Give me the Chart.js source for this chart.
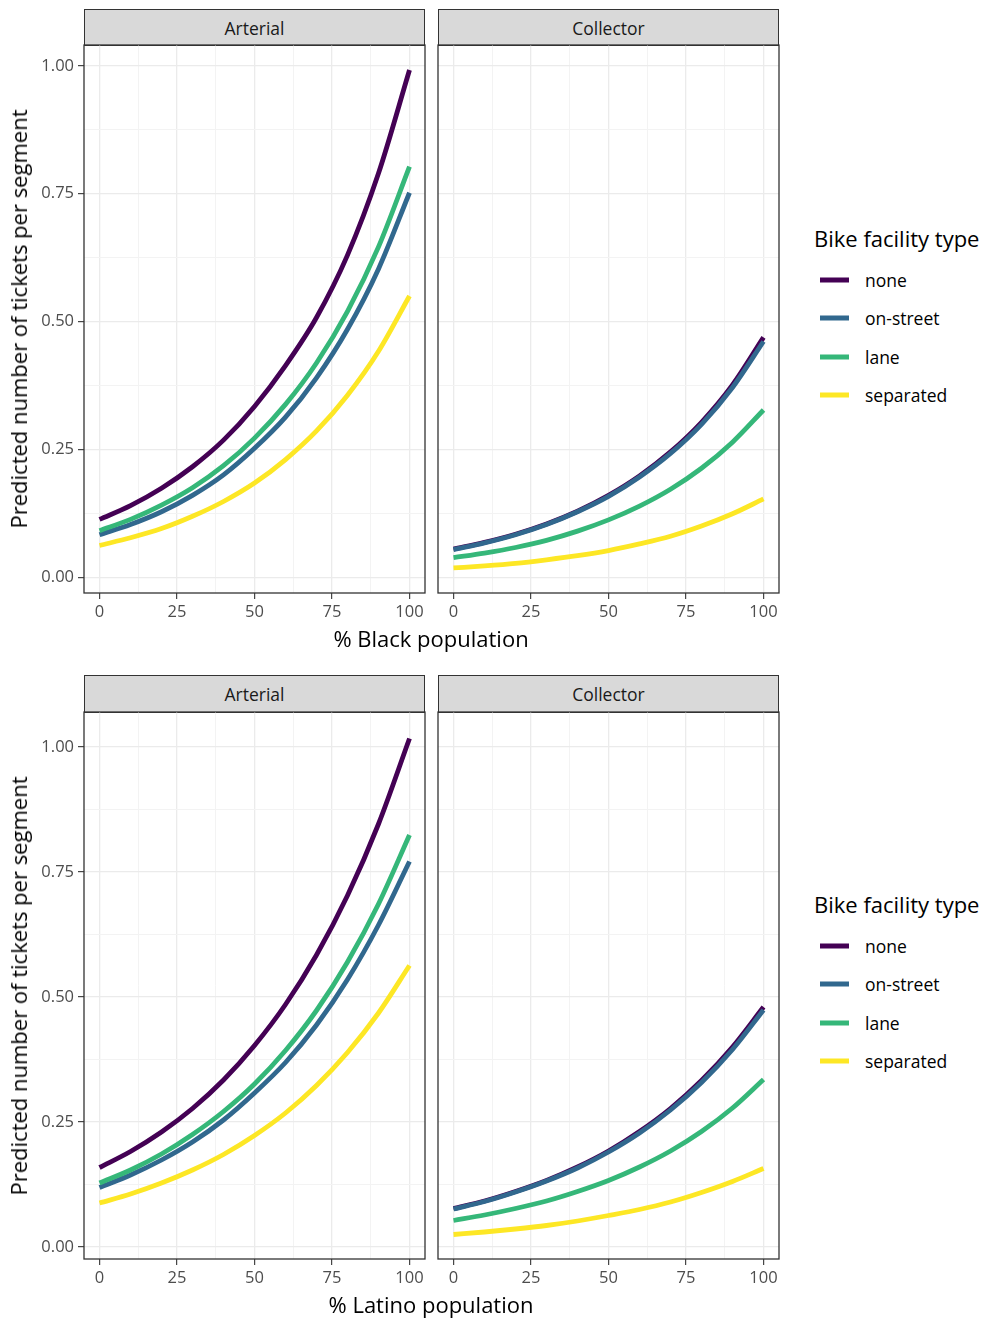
<!DOCTYPE html>
<html>
<head>
<meta charset="utf-8">
<script src="https://cdn.jsdelivr.net/npm/chart.js@4.4.1/dist/chart.umd.min.js"></script>
<style>
  html, body { margin:0; padding:0; background:#ffffff; }
  body { width:991px; height:1318px; position:relative; overflow:hidden; font-family:"Open Sans", "Noto Sans", sans-serif; }
  .strip { position:absolute; box-sizing:border-box; background:#D9D9D9; border:1.3px solid #333333;
           color:#1A1A1A; font-size:17.5px; display:flex; align-items:center; justify-content:center; }
  .ytitle { position:absolute; font-size:22px; color:#000; white-space:nowrap; transform:translate(-50%,-50%) rotate(-90deg); }
  .xtitle { position:absolute; font-size:22px; color:#000; white-space:nowrap; transform:translate(-50%,-50%); }
  .legtitle { position:absolute; font-size:22px; color:#000; white-space:nowrap; transform:translateY(-50%); }
  .legkey { position:absolute; width:29px; height:5px; transform:translateY(-50%); }
  .legtext { position:absolute; font-size:17.5px; color:#000; white-space:nowrap; transform:translateY(-50%); }
</style>
</head>
<body>
<script>
// ---------------- data ----------------
const xValues = [0, 10, 20, 30, 40, 50, 60, 70, 80, 90, 100];
const facilityTypes = ['none', 'on-street', 'lane', 'separated'];
const facetNames = ['Arterial', 'Collector'];
const xTickLabels = [0, 25, 50, 75, 100];
const yTickLabels = ['0.00', '0.25', '0.50', '0.75', '1.00'];
const legendTitle = 'Bike facility type';
const yAxisTitle = 'Predicted number of tickets per segment';
const xAxisTitles = ['% Black population', '% Latino population'];

const blackArterialNone      = [0.113, 0.140, 0.174, 0.216, 0.268, 0.334, 0.414, 0.508, 0.630, 0.790, 0.992];
const blackArterialOnStreet  = [0.083, 0.103, 0.128, 0.160, 0.200, 0.252, 0.313, 0.390, 0.485, 0.603, 0.752];
const blackArterialLane      = [0.091, 0.113, 0.141, 0.175, 0.218, 0.272, 0.338, 0.419, 0.520, 0.646, 0.803];
const blackArterialSeparated = [0.062, 0.077, 0.095, 0.119, 0.148, 0.184, 0.230, 0.286, 0.356, 0.442, 0.550];

const blackCollectorNone      = [0.055, 0.068, 0.084, 0.104, 0.129, 0.160, 0.198, 0.245, 0.303, 0.376, 0.469];
const blackCollectorOnStreet  = [0.054, 0.067, 0.083, 0.103, 0.128, 0.158, 0.196, 0.242, 0.299, 0.371, 0.461];
const blackCollectorLane      = [0.038, 0.047, 0.058, 0.072, 0.090, 0.112, 0.139, 0.172, 0.213, 0.264, 0.327];
const blackCollectorSeparated = [0.018, 0.022, 0.027, 0.034, 0.042, 0.052, 0.065, 0.080, 0.100, 0.124, 0.153];

const latinoArterialNone      = [0.159, 0.191, 0.230, 0.277, 0.334, 0.403, 0.485, 0.584, 0.703, 0.846, 1.017];
const latinoArterialOnStreet  = [0.119, 0.144, 0.174, 0.210, 0.254, 0.308, 0.369, 0.444, 0.535, 0.644, 0.771];
const latinoArterialLane      = [0.128, 0.154, 0.186, 0.225, 0.271, 0.326, 0.393, 0.473, 0.570, 0.686, 0.824];
const latinoArterialSeparated = [0.088, 0.106, 0.128, 0.154, 0.185, 0.223, 0.268, 0.323, 0.389, 0.468, 0.563];

const latinoCollectorNone      = [0.077, 0.092, 0.111, 0.133, 0.160, 0.192, 0.231, 0.277, 0.333, 0.400, 0.480];
const latinoCollectorOnStreet  = [0.076, 0.091, 0.110, 0.132, 0.158, 0.190, 0.228, 0.274, 0.329, 0.395, 0.474];
const latinoCollectorLane      = [0.053, 0.064, 0.077, 0.092, 0.111, 0.133, 0.160, 0.192, 0.231, 0.278, 0.335];
const latinoCollectorSeparated = [0.025, 0.030, 0.036, 0.043, 0.052, 0.063, 0.075, 0.090, 0.109, 0.131, 0.157];

// ---------------- style ----------------
const seriesColors = ['#440154', '#31688E', '#35B779', '#FDE725'];
const FONT = '"Open Sans", "Noto Sans", sans-serif';

function el(cls, text, style) {
  const d = document.createElement('div');
  d.className = cls;
  if (text !== null) d.textContent = text;
  Object.assign(d.style, style);
  document.body.appendChild(d);
  return d;
}

const borderPlugin = {
  id: 'panelBorder',
  afterDraw(chart) {
    const a = chart.chartArea, c = chart.ctx;
    c.save();
    c.strokeStyle = '#333333';
    c.lineWidth = 1.3;
    c.strokeRect(a.left, a.top, a.right - a.left, a.bottom - a.top);
    c.restore();
  }
};

function makePanel(box, seriesList, showY, yMin, yMax) {
  const W = showY ? 60 : 0, H = 36, p = 4;
  const canvas = document.createElement('canvas');
  const cw = (box.R - box.L) + W + 2 * p;
  const ch = (box.B - box.T) + H + 2 * p;
  canvas.width = cw; canvas.height = ch;
  canvas.style.position = 'absolute';
  canvas.style.left = (box.L - W - p) + 'px';
  canvas.style.top = (box.T - p) + 'px';
  canvas.style.width = cw + 'px';
  canvas.style.height = ch + 'px';
  document.body.appendChild(canvas);

  const xMajor = xTickLabels.map(Number);
  const yMajor = yTickLabels.map(Number);
  const xAll = [];
  for (let i = 0; i < xMajor.length; i++) { xAll.push(xMajor[i]); if (i < xMajor.length - 1) xAll.push((xMajor[i] + xMajor[i+1]) / 2); }
  const yAll = [];
  for (let i = 0; i < yMajor.length; i++) { yAll.push(yMajor[i]); if (i < yMajor.length - 1) yAll.push((yMajor[i] + yMajor[i+1]) / 2); }
  const isMajorX = v => xMajor.some(m => Math.abs(m - v) < 1e-9);
  const isMajorY = v => yMajor.some(m => Math.abs(m - v) < 1e-9);

  const order = [4, 3, 2, 1];
  const datasets = seriesList.map((arr, i) => ({
    label: facilityTypes[i],
    data: xValues.map((x, j) => ({ x: x, y: arr[j] })),
    borderColor: seriesColors[i],
    backgroundColor: seriesColors[i],
    borderWidth: 4.8,
    pointRadius: 0,
    cubicInterpolationMode: 'monotone',
    fill: false,
    order: order[i]
  }));

  new Chart(canvas, {
    type: 'line',
    data: { datasets },
    plugins: [borderPlugin],
    options: {
      responsive: false,
      animation: false,
      devicePixelRatio: 1,
      layout: { padding: p },
      plugins: { legend: { display: false }, tooltip: { enabled: false } },
      scales: {
        x: {
          type: 'linear', min: -5, max: 105,
          afterBuildTicks: a => { a.ticks = xAll.map(v => ({ value: v })); },
          afterFit: a => { a.height = H; a.paddingLeft = 0; a.paddingRight = 0; a.paddingTop = 0; a.paddingBottom = 0; },
          border: { display: false },
          grid: {
            color: c => (c.tick && isMajorX(c.tick.value)) ? '#EBEBEB' : '#F3F3F3',
            lineWidth: c => (c.tick && isMajorX(c.tick.value)) ? 1.3 : 1,
            tickColor: c => (c.tick && isMajorX(c.tick.value)) ? '#333333' : 'rgba(0,0,0,0)',
            tickLength: 6, tickWidth: 1.1, drawTicks: true
          },
          ticks: {
            autoSkip: false, maxRotation: 0, minRotation: 0, padding: 3,
            color: '#4D4D4D', font: { family: FONT, size: 16.5 },
            callback: v => isMajorX(v) ? String(v) : ''
          }
        },
        y: {
          type: 'linear', min: yMin, max: yMax,
          afterBuildTicks: a => { a.ticks = yAll.map(v => ({ value: v })); },
          afterFit: a => { a.width = W; a.paddingLeft = 0; a.paddingRight = 0; a.paddingTop = 0; a.paddingBottom = 0; },
          border: { display: false },
          grid: {
            color: c => (c.tick && isMajorY(c.tick.value)) ? '#EBEBEB' : '#F3F3F3',
            lineWidth: c => (c.tick && isMajorY(c.tick.value)) ? 1.3 : 1,
            tickColor: c => (c.tick && isMajorY(c.tick.value)) ? '#333333' : 'rgba(0,0,0,0)',
            tickLength: 6, tickWidth: 1.1, drawTicks: showY
          },
          ticks: {
            display: showY, autoSkip: false, padding: 4,
            color: '#4D4D4D', font: { family: FONT, size: 16.5 },
            callback: v => isMajorY(v) ? yTickLabels[yMajor.findIndex(m => Math.abs(m - v) < 1e-9)] : ''
          }
        }
      }
    }
  });
}

function makeFigure(fig) {
  fig.panels.forEach((b, i) => {
    el('strip', facetNames[i], { left: b.L + 'px', top: fig.stripTop + 'px', width: (b.R - b.L) + 'px', height: (b.T - fig.stripTop + 1) + 'px' });
  });
  makePanel(fig.panels[0], fig.series[0], true, fig.yMin, fig.yMax);
  makePanel(fig.panels[1], fig.series[1], false, fig.yMin, fig.yMax);
  el('ytitle', yAxisTitle, { left: '18px', top: ((fig.panels[0].T + fig.panels[0].B) / 2) + 'px' });
  el('xtitle', fig.xTitle, { left: '431px', top: fig.xTitleY + 'px' });
  el('legtitle', legendTitle, { left: '814px', top: fig.legTop + 'px' });
  facilityTypes.forEach((name, i) => {
    const y = fig.legTop + 42 + i * 38.4;
    el('legkey', null, { left: '820px', top: y + 'px', background: seriesColors[i] });
    el('legtext', name, { left: '865px', top: y + 'px' });
  });
}

makeFigure({
  stripTop: 9,
  panels: [{ L: 84, R: 425, T: 45, B: 593 }, { L: 438, R: 779, T: 45, B: 593 }],
  series: [
    [blackArterialNone, blackArterialOnStreet, blackArterialLane, blackArterialSeparated],
    [blackCollectorNone, blackCollectorOnStreet, blackCollectorLane, blackCollectorSeparated]
  ],
  yMin: -0.031, yMax: 1.041,
  xTitle: xAxisTitles[0], xTitleY: 638, legTop: 238
});

makeFigure({
  stripTop: 675,
  panels: [{ L: 84, R: 425, T: 712, B: 1259 }, { L: 438, R: 779, T: 712, B: 1259 }],
  series: [
    [latinoArterialNone, latinoArterialOnStreet, latinoArterialLane, latinoArterialSeparated],
    [latinoCollectorNone, latinoCollectorOnStreet, latinoCollectorLane, latinoCollectorSeparated]
  ],
  yMin: -0.024, yMax: 1.07,
  xTitle: xAxisTitles[1], xTitleY: 1304, legTop: 904
});
</script>
</body>
</html>
